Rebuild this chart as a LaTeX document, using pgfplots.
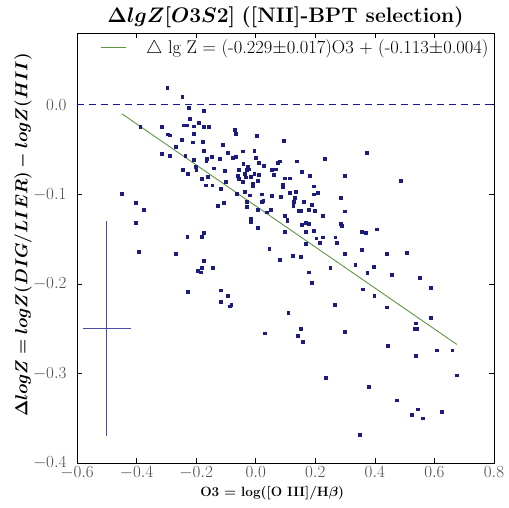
\documentclass[border=0pt]{standalone}
\usepackage{fix-cm}
\usepackage{amsmath,amssymb,bm}
\usepackage{fontspec}
\usepackage{pgfplots}
\pgfplotsset{compat=1.18}

\definecolor{ptblue}{RGB}{28,28,125}
\definecolor{zeroblue}{RGB}{25,25,150}
\definecolor{fitgreen}{RGB}{95,150,70}
\definecolor{errblue}{RGB}{75,75,170}

\pgfplotstableread{
x y
-0.297 0.019
-0.247 0.009
-0.226 -0.003
-0.175 -0.007
-0.221 -0.016
-0.388 -0.025
-0.316 -0.025
-0.241 -0.023
-0.230 -0.023
-0.208 -0.024
-0.191 -0.020
-0.175 -0.025
-0.158 -0.025
-0.208 -0.032
-0.295 -0.033
-0.290 -0.034
-0.248 -0.039
-0.211 -0.042
-0.179 -0.041
-0.268 -0.047
-0.174 -0.051
-0.316 -0.055
-0.290 -0.057
-0.237 -0.057
-0.208 -0.061
-0.164 -0.060
-0.147 -0.058
-0.166 -0.063
-0.202 -0.069
-0.245 -0.073
-0.228 -0.077
-0.141 -0.071
-0.121 -0.060
-0.110 -0.045
-0.200 -0.073
-0.160 -0.080
-0.181 -0.083
-0.169 -0.090
-0.146 -0.090
-0.118 -0.094
-0.102 -0.086
-0.105 -0.074
-0.093 -0.054
-0.076 -0.059
-0.068 -0.058
-0.070 -0.028
-0.067 -0.032
-0.045 -0.052
-0.056 -0.073
-0.061 -0.079
-0.037 -0.077
-0.034 -0.081
-0.031 -0.073
-0.026 -0.069
-0.018 -0.080
-0.005 -0.077
-0.005 -0.051
0.003 -0.035
0.011 -0.065
-0.011 -0.088
-0.009 -0.091
-0.037 -0.097
-0.020 -0.101
0.011 -0.078
0.021 -0.100
0.055 -0.102
0.053 -0.073
0.027 -0.068
0.073 -0.065
-0.127 -0.113
-0.108 -0.109
-0.029 -0.114
0.008 -0.117
0.025 -0.107
0.050 -0.117
-0.018 -0.127
-0.018 -0.131
0.006 -0.137
-0.451 -0.099
-0.402 -0.109
-0.375 -0.117
-0.402 -0.132
-0.230 -0.147
-0.175 -0.143
-0.181 -0.147
-0.393 -0.164
-0.269 -0.166
-0.175 -0.174
-0.180 -0.182
-0.196 -0.185
-0.185 -0.187
-0.144 -0.182
-0.228 -0.209
-0.117 -0.207
-0.095 -0.213
-0.118 -0.220
-0.087 -0.225
-0.082 -0.223
0.045 -0.161
0.081 -0.173
0.030 -0.255
0.038 -0.120
-0.029 -0.108
0.020 -0.108
0.128 -0.108
0.126 -0.113
0.160 -0.108
0.188 -0.112
0.143 -0.118
0.151 -0.118
0.177 -0.117
0.199 -0.118
0.225 -0.124
0.298 -0.119
0.098 -0.124
0.106 -0.128
0.106 -0.130
0.098 -0.142
0.154 -0.134
0.169 -0.132
0.177 -0.133
0.169 -0.142
0.194 -0.141
0.214 -0.154
0.203 -0.149
0.225 -0.148
0.169 -0.155
0.284 -0.133
0.289 -0.135
0.267 -0.148
0.272 -0.154
0.357 -0.142
0.368 -0.143
0.405 -0.139
0.124 -0.169
0.152 -0.170
0.177 -0.187
0.188 -0.199
0.250 -0.182
0.300 -0.166
0.334 -0.179
0.357 -0.162
0.374 -0.188
0.396 -0.181
0.360 -0.206
0.398 -0.213
0.439 -0.166
0.506 -0.165
0.456 -0.190
0.550 -0.193
0.587 -0.204
0.441 -0.226
0.537 -0.244
0.534 -0.250
0.540 -0.250
0.587 -0.238
0.109 -0.232
0.151 -0.250
0.141 -0.258
0.158 -0.265
0.264 -0.223
0.300 -0.253
0.443 -0.269
0.538 -0.280
0.607 -0.274
0.660 -0.274
0.674 -0.302
0.236 -0.305
0.379 -0.315
0.473 -0.330
0.525 -0.346
0.544 -0.340
0.561 -0.350
0.624 -0.343
0.348 -0.368
0.231 -0.060
0.372 -0.054
0.299 -0.079
0.486 -0.085
0.285 -0.104
0.095 -0.040
-0.001 -0.059
-0.042 -0.066
-0.022 -0.072
0.067 -0.072
0.081 -0.063
0.138 -0.063
0.154 -0.075
0.182 -0.079
-0.045 -0.086
-0.056 -0.083
0.008 -0.085
0.061 -0.078
0.098 -0.082
0.113 -0.082
0.090 -0.089
0.090 -0.092
0.194 -0.091
0.207 -0.098
0.196 -0.100
0.135 -0.097
0.115 -0.098
0.084 -0.103
-0.063 -0.099
0.132 -0.104
}\galaxies

\begin{document}
\begin{tikzpicture}
% fixes the page to the reference's frame (1px = 1pt, axis box at origin)
\path[use as bounding box] (-77pt,-44pt) rectangle (432pt,463pt);
\begin{axis}[
    scale only axis,
    width=417pt, height=430pt,
    xmin=-0.6, xmax=0.8, ymin=-0.4, ymax=0.08,
    xtick={-0.6,-0.4,-0.2,0,0.2,0.4,0.6,0.8},
    ytick={-0.4,-0.3,-0.2,-0.1,0},
    /pgf/number format/.cd, fixed, fixed zerofill, precision=1,
    /pgfplots/.cd,
    tick align=inside,
    major tick length=5pt,
    tick style={black, line width=0.6pt},
    axis line style={line width=0.9pt},
    tick label style={font=\fontsize{17}{17}\selectfont, text=black!70},
    yticklabel style={xshift=-7pt},
    title={$\bm{\Delta lgZ[O3S2]}$ \textbf{([NII]-BPT selection)}},
    title style={font=\fontsize{21}{22}\selectfont, at={(0.5,1)}, anchor=center, yshift=10pt},
    xlabel={\textbf{O3 = log([O III]/H$\bm{\beta}$)}},
    xlabel style={font=\fontsize{13.5}{15}\selectfont, at={(axis description cs:0.468,0)}, anchor=center, yshift=-30pt},
    ylabel={$\bm{\Delta logZ = logZ(DIG/LIER) - logZ(HII)}$},
    ylabel style={font=\fontsize{17.4}{18}\selectfont, at={(axis description cs:0,0.53)}, anchor=center, yshift=54pt},
    legend style={at={(axis description cs:0.055,0.967)}, anchor=west, draw=none, fill=none,
        font=\fontsize{18.5}{20}\selectfont, inner sep=0pt, column sep=18pt},
    legend cell align=left,
    legend image code/.code={\draw[#1] (0pt,0pt) -- (25pt,0pt);},
]

% zero reference line
\addplot[zeroblue, line width=1.2pt, dash pattern=on 7pt off 5pt, forget plot]
    coordinates {(-0.6,0) (0.8,0)};

% galaxies
\addplot[only marks, mark=square*, mark size=1.4pt, ptblue, forget plot] table[x=x, y=y] {\galaxies};

% typical error
\addplot[errblue, line width=1.2pt, mark=none, forget plot,
    error bars/.cd, y dir=both, y explicit, error mark=none,
    error bar style={line width=1.2pt, errblue}]
    coordinates {(-0.5,-0.25) +- (0,0.12)};
\addplot[errblue, line width=1.2pt, mark=none, forget plot,
    error bars/.cd, x dir=both, x explicit,
    error bar style={line width=1.2pt, errblue},
    error mark options={errblue, mark size=3pt, line width=1pt}]
    coordinates {(-0.5,-0.25) +- (0.071,0)};

% linear fit
\addplot[fitgreen, line width=0.9pt] coordinates {(-0.45,-0.0100) (0.675,-0.2676)};
\addlegendentry{$\triangle$ lg Z = (-0.229$\pm$0.017)O3 + (-0.113$\pm$0.004)}

\end{axis}
\end{tikzpicture}
\end{document}
